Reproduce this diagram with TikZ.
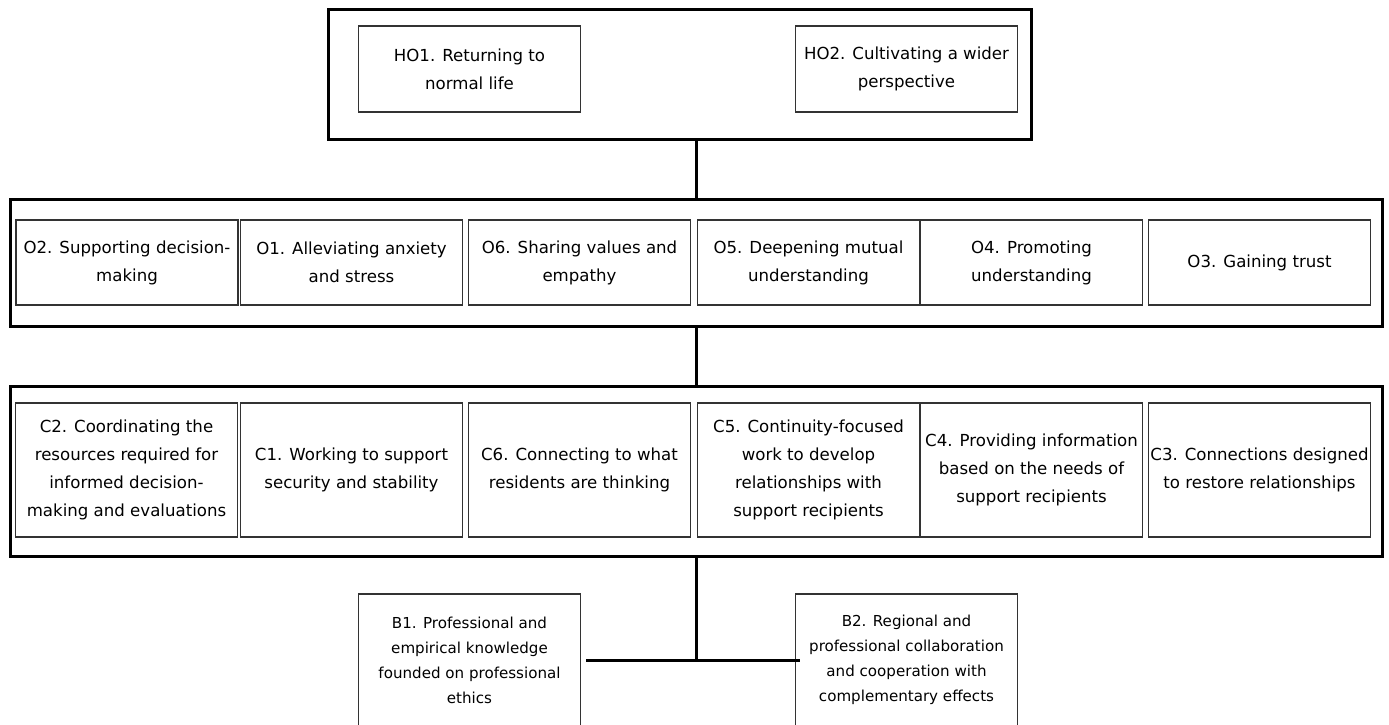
\documentclass[tikz,border=0pt]{standalone}
\usepackage{fontspec}
\setmainfont{DejaVu Sans}
\begin{document}
\begin{tikzpicture}[x=1pt,y=-1pt]
	\tikzstyle{frame}=[draw=black,line width=3pt,inner sep=0pt]
	\tikzstyle{box}=[draw=black!80,line width=1.5pt,align=center,inner sep=0pt,font=\fontsize{16.6}{28}\selectfont]
	\tikzstyle{obox}=[box,minimum width=222pt,minimum height=85pt]
	\tikzstyle{cbox}=[box,minimum width=222pt,minimum height=134pt]
	\tikzstyle{bbox}=[box,minimum width=222pt,minimum height=132pt,font=\fontsize{15.1}{25}\selectfont]
	\tikzstyle{simple}=[-,draw,line width=3pt]
		\useasboundingbox (0,0) rectangle (1389,725);

		\node [style=frame,minimum width=703pt,minimum height=129pt] (top) at (679.5,74.5) {};
		\node [style=box,minimum width=222pt,minimum height=86pt] (ho1) at (469.5,69) {HO1. Returning to\\normal life};
		\node [style=box,minimum width=222pt,minimum height=86pt] (ho2) at (906.5,69) {HO2. Cultivating a wider\\perspective};

		\node [style=frame,minimum width=1372pt,minimum height=127pt] (orow) at (696,262.5) {};
		\node [style=obox] (o2) at (127,262.5) {O2. Supporting decision-\\making};
		\node [style=obox] (o1) at (351.5,262.5) {O1. Alleviating anxiety\\and stress};
		\node [style=obox] (o6) at (579.5,262.5) {O6. Sharing values and\\empathy};
		\node [style=obox] (o5) at (808.5,262.5) {O5. Deepening mutual\\understanding};
		\node [style=obox] (o4) at (1031.5,262.5) {O4. Promoting\\understanding};
		\node [style=obox] (o3) at (1259.5,262.5) {O3. Gaining trust};

		\node [style=frame,minimum width=1372pt,minimum height=170pt] (crow) at (696,471) {};
		\node [style=cbox] (c2) at (126.5,470) {C2. Coordinating the\\resources required for\\informed decision-\\making and evaluations};
		\node [style=cbox] (c1) at (351.5,470) {C1. Working to support\\security and stability};
		\node [style=cbox] (c6) at (579.5,470) {C6. Connecting to what\\residents are thinking};
		\node [style=cbox] (c5) at (808.5,470) {C5. Continuity-focused\\work to develop\\relationships with\\support recipients};
		\node [style=cbox] (c4) at (1031.5,470) {C4. Providing information\\based on the needs of\\support recipients};
		\node [style=cbox] (c3) at (1259.5,470) {C3. Connections designed\\to restore relationships};

		\node [style=bbox] (b1) at (469.5,660) {B1. Professional and\\empirical knowledge\\founded on professional\\ethics};
		\node [style=bbox] (b2) at (906.5,660) {B2. Regional and\\professional collaboration\\and cooperation with\\complementary effects};

		\draw [style=simple] (top.south -| o5.west) to (orow.north -| o5.west);
		\draw [style=simple] (orow.south -| o5.west) to (crow.north -| o5.west);
		\draw [style=simple] (crow.south -| c5.west) to (b1.east -| c5.west);
		\draw [style=simple] ([xshift=5pt]b1.east) to ([xshift=5pt]b2.west);

\end{tikzpicture}
\end{document}
